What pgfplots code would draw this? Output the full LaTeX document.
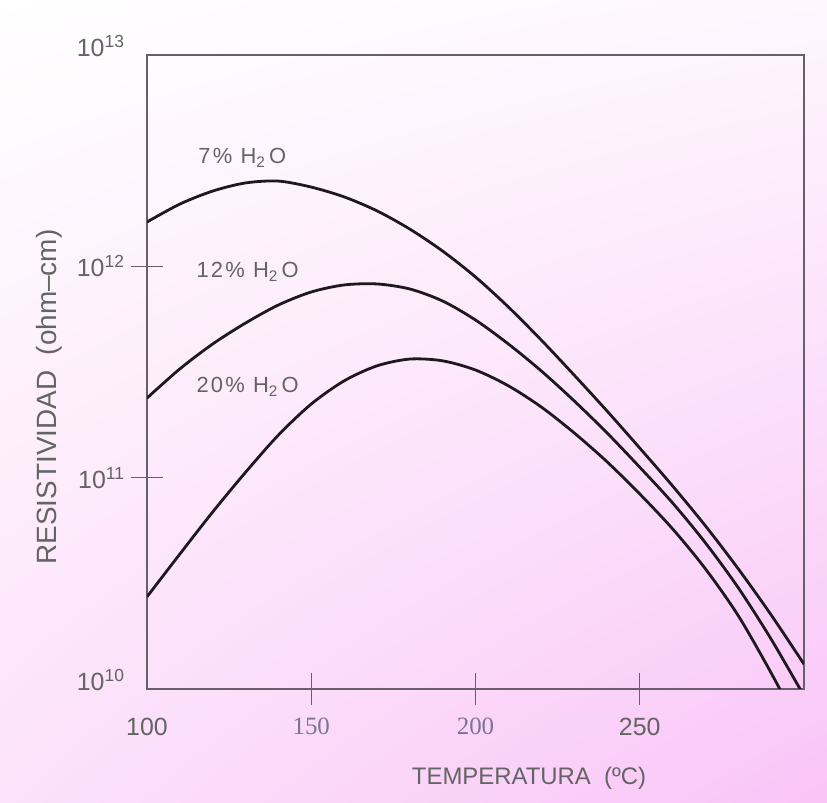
\documentclass[border=0pt]{standalone}
\usepackage{fontspec}
\setmainfont{Liberation Sans}
\newfontfamily\serifx{Liberation Serif}
\newfontfamily\spaced[LetterSpace=10]{Liberation Sans}
\usepackage{pgfplots}
\pgfplotsset{compat=1.18}
\usetikzlibrary{shadings}
\definecolor{bgUR}{RGB}{254,247,254}
\definecolor{bgLL}{RGB}{252,226,250}
\definecolor{bgLR}{RGB}{249,196,247}
\definecolor{axgray}{RGB}{105,95,108}
\definecolor{txtgray}{RGB}{100,100,100}
\definecolor{lav}{RGB}{125,115,150}
\definecolor{curve}{RGB}{30,25,30}
\begin{document}
\begin{tikzpicture}[x=1bp,y=1bp]
\useasboundingbox (0,0) rectangle (827,803);
\shade[upper left=white, upper right=bgUR, lower left=bgLL, lower right=bgLR] (0,0) rectangle (827,803);
\begin{axis}[
  at={(147bp,114bp)}, anchor=south west, scale only axis,
  width=657bp, height=634bp,
  ymode=log, xmin=100, xmax=300, ymin=1e10, ymax=1e13,
  axis line style={axgray, line width=1.4bp},
  tick style={axgray, line width=1.2bp},
  major tick length=32bp, tick align=center,
  xtick pos=lower, ytick pos=left,
  xminorticks=false, yminorticks=false,
  xtick={150,200,250},
  xticklabels={{\serifx\color{lav}150},{\serifx\color{lav}200},250},
  extra x ticks={100}, extra x tick labels={100},
  extra x tick style={tick style={draw=none}},
  ytick={1e11,1e12},
  yticklabels={10\textsuperscript{11},10\textsuperscript{12}},
  extra y ticks={1e10,1e13},
  extra y tick labels={10\textsuperscript{10},10\textsuperscript{13}},
  extra y tick style={tick style={draw=none}, yticklabel style={yshift=9bp}},
  ticklabel style={font=\fontsize{25}{27}\selectfont, text=txtgray},
  xticklabel style={yshift=-10bp},
  yticklabel style={xshift=-3bp},
  clip=true,
]
% 7% H2O
\addplot[curve, line width=2.8bp, smooth] coordinates {
 (100,1.62e12) (110,1.97e12) (120,2.27e12) (130,2.48e12) (140,2.53e12)
 (150,2.37e12) (160,2.13e12) (170,1.83e12) (180,1.50e12) (190,1.18e12)
 (200,8.90e11) (210,6.42e11) (220,4.48e11) (230,3.06e11) (240,2.07e11)
 (250,1.38e11) (260,9.13e10) (270,5.91e10) (280,3.70e10) (290,2.24e10)
 (300,1.31e10)};
% 12% H2O
\addplot[curve, line width=2.8bp, smooth] coordinates {
 (100,2.38e11) (110,3.27e11) (120,4.29e11) (130,5.39e11) (140,6.56e11)
 (150,7.56e11) (160,8.16e11) (170,8.25e11) (180,7.81e11) (190,6.85e11)
 (200,5.57e11) (210,4.29e11) (220,3.20e11) (230,2.31e11) (240,1.63e11)
 (250,1.12e11) (260,7.59e10) (270,4.91e10) (280,3.01e10) (290,1.72e10)
 (300,9.27e9)};
% 20% H2O
\addplot[curve, line width=2.8bp, smooth] coordinates {
 (100,2.73e10) (110,4.35e10) (120,6.88e10) (130,1.06e11) (140,1.59e11)
 (150,2.23e11) (160,2.87e11) (170,3.38e11) (180,3.64e11) (190,3.57e11)
 (200,3.23e11) (210,2.72e11) (220,2.16e11) (230,1.63e11) (240,1.19e11)
 (250,8.37e10) (260,5.72e10) (270,3.70e10) (280,2.22e10) (290,1.19e10)
 (300,6.06e9)};
\node[anchor=west, text=txtgray, font=\fontsize{22}{24}\spaced] at (axis cs:114.6,3.26e12) {7\%\ H\textsubscript{2}\,O};
\node[anchor=west, text=txtgray, font=\fontsize{22}{24}\spaced] at (axis cs:114,9.4e11) {12\%\ H\textsubscript{2}\,O};
\node[anchor=west, text=txtgray, font=\fontsize{22}{24}\spaced] at (axis cs:114,2.69e11) {20\%\ H\textsubscript{2}\,O};
\end{axis}
\node[font=\fontsize{24}{26}\selectfont, text=txtgray] at (529,25) {TEMPERATURA\ \ (ºC)};
\node[rotate=90, font=\fontsize{28}{30}\selectfont, text=txtgray] at (49,406) {RESISTIVIDAD\ \ (ohm--cm)};
\end{tikzpicture}
\end{document}
